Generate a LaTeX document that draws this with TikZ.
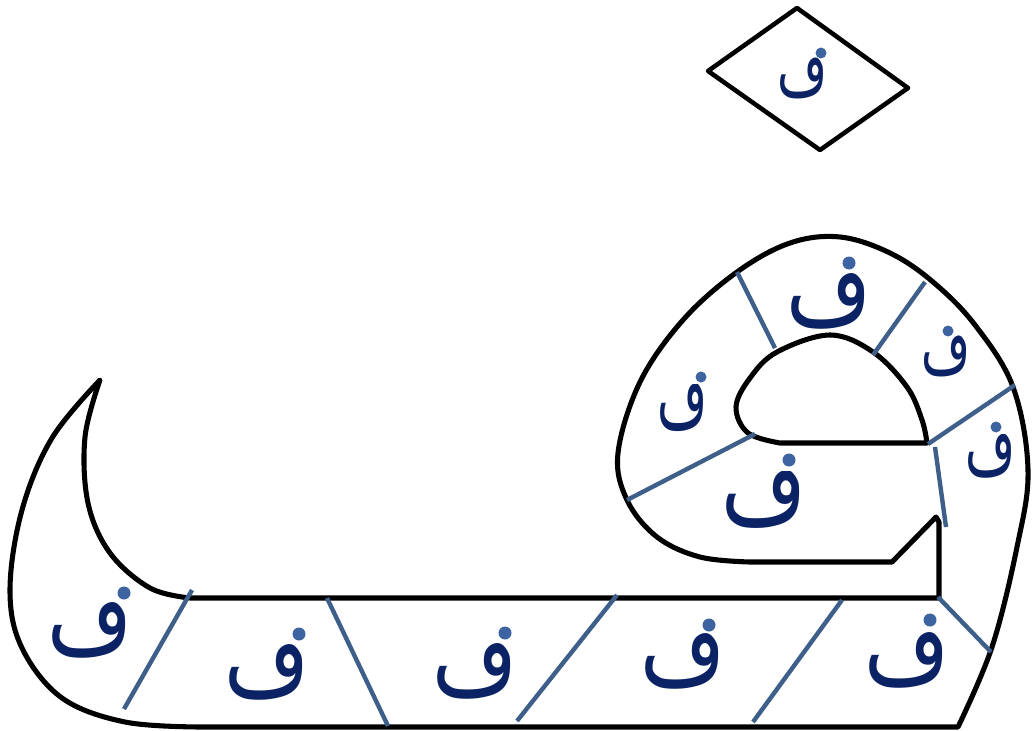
\documentclass[tikz,border=0pt]{standalone}
\usepackage{fontspec}
\usepackage{graphicx}
\newfontfamily\arabicfont[Script=Arabic]{DejaVu Sans}
\TeXXeTstate=1
\definecolor{navy}{HTML}{0B2265}
\definecolor{divblue}{HTML}{3E5F8A}
\definecolor{dotblue}{HTML}{3D64A0}
\tikzset{
  outline/.style={draw=black, line width=3.8pt, line join=round},
  divider/.style={draw=divblue, line width=3.3pt},
  lbl/.style={inner sep=0pt, outer sep=0pt, text=navy},
  fadot/.style={fill=dotblue, draw=none},
}
% #1 name, #2 centre (x,y), #3 width px, #4 height px, #5 dot x, #6 dot y, #7 dot radius px
\newcommand{\falbl}[7]{%
  \pgfmathsetlengthmacro\faW{#3*0.75pt}%
  \pgfmathsetlengthmacro\faH{#4*0.75pt}%
  \pgfmathsetmacro\faCut{-#4/2+0.235*#4}%
  \begin{scope}[shift={(#2)}]
    \clip (-70,\faCut) rectangle (70,70);
    \node[lbl] (#1) at (0,0) {\resizebox*{\faW}{\faH}{\arabicfont ف}};
  \end{scope}
  \fill[fadot] (#5,#6) circle[radius=#7*0.75pt];
}
\begin{document}
\begin{tikzpicture}[x=0.75pt,y=-0.75pt]
\useasboundingbox (0,0) rectangle (1035,731);
% diamond
\draw[outline, line width=3.4pt] (797,8) -- (908,88) -- (820,150) -- (708,71) -- cycle;
% main letter outline
\draw[outline]
  plot[smooth, tension=0.6] coordinates {(100,380) (52,438) (22,510) (10,590) (22,648) (62,698) (125,722) (200,727)}
  -- (958,727)
  -- plot[smooth, tension=0.6] coordinates {(958,727) (992,647) (1017,547) (1028,470) (1013,387) (975,325) (933,282) (890,253) (840,237) (790,243) (737,272) (683,320) (640,382) (618,453) (627,500) (657,537) (700,557) (750,562)}
  -- (892,562) -- (936,517) -- (939,522) -- (939,598) -- (190,598)
  -- plot[smooth, tension=0.6] coordinates {(190,598) (150,588) (110,553) (88,503) (85,437) (100,380)}
  -- cycle;
% counter (hole)
\draw[outline] (927,443) -- (780,443)
  -- plot[smooth, tension=0.6] coordinates {(780,443) (748,433) (736,407) (750,378) (777,352) (830,335) (873,352) (907,387) (922,420) (927,443)}
  -- cycle;
% dividers
\draw[divider] (192,590) -- (124,709);
\draw[divider] (327,598) -- (388,726);
\draw[divider] (617,595) -- (517,721);
\draw[divider] (842,600) -- (753,722);
\draw[divider] (938,597) -- (991,652);
\draw[divider] (627,500) -- (755,434);
\draw[divider] (737,272) -- (775,348);
\draw[divider] (925,282) -- (873,355);
\draw[divider] (928,444) -- (1015,385);
\draw[divider] (935,447) -- (946,527);
% labels
\falbl{d}{802,72}{50}{53}{821}{53}{5.5}
\falbl{b1}{90,622}{85}{72}{124}{593}{6.5}
\falbl{b2}{267,664}{85}{72}{299}{634}{6.5}
\falbl{b3}{475,663}{85}{72}{505}{633}{6.5}
\falbl{b4}{683,653}{85}{72}{709}{625}{6.5}
\falbl{b5}{907,652}{85}{72}{930}{620}{6.5}
\falbl{h1}{764,491}{85}{75}{789}{460}{6.5}
\falbl{h2}{829,293}{85}{72}{849}{263}{6.5}
\falbl{h3}{682,401}{50}{62}{701}{377}{5.5}
\falbl{h4}{946,350}{49}{53}{948}{331}{5.5}
\falbl{h5}{990,450}{50}{57}{996}{427}{5.5}
\end{tikzpicture}
\end{document}
